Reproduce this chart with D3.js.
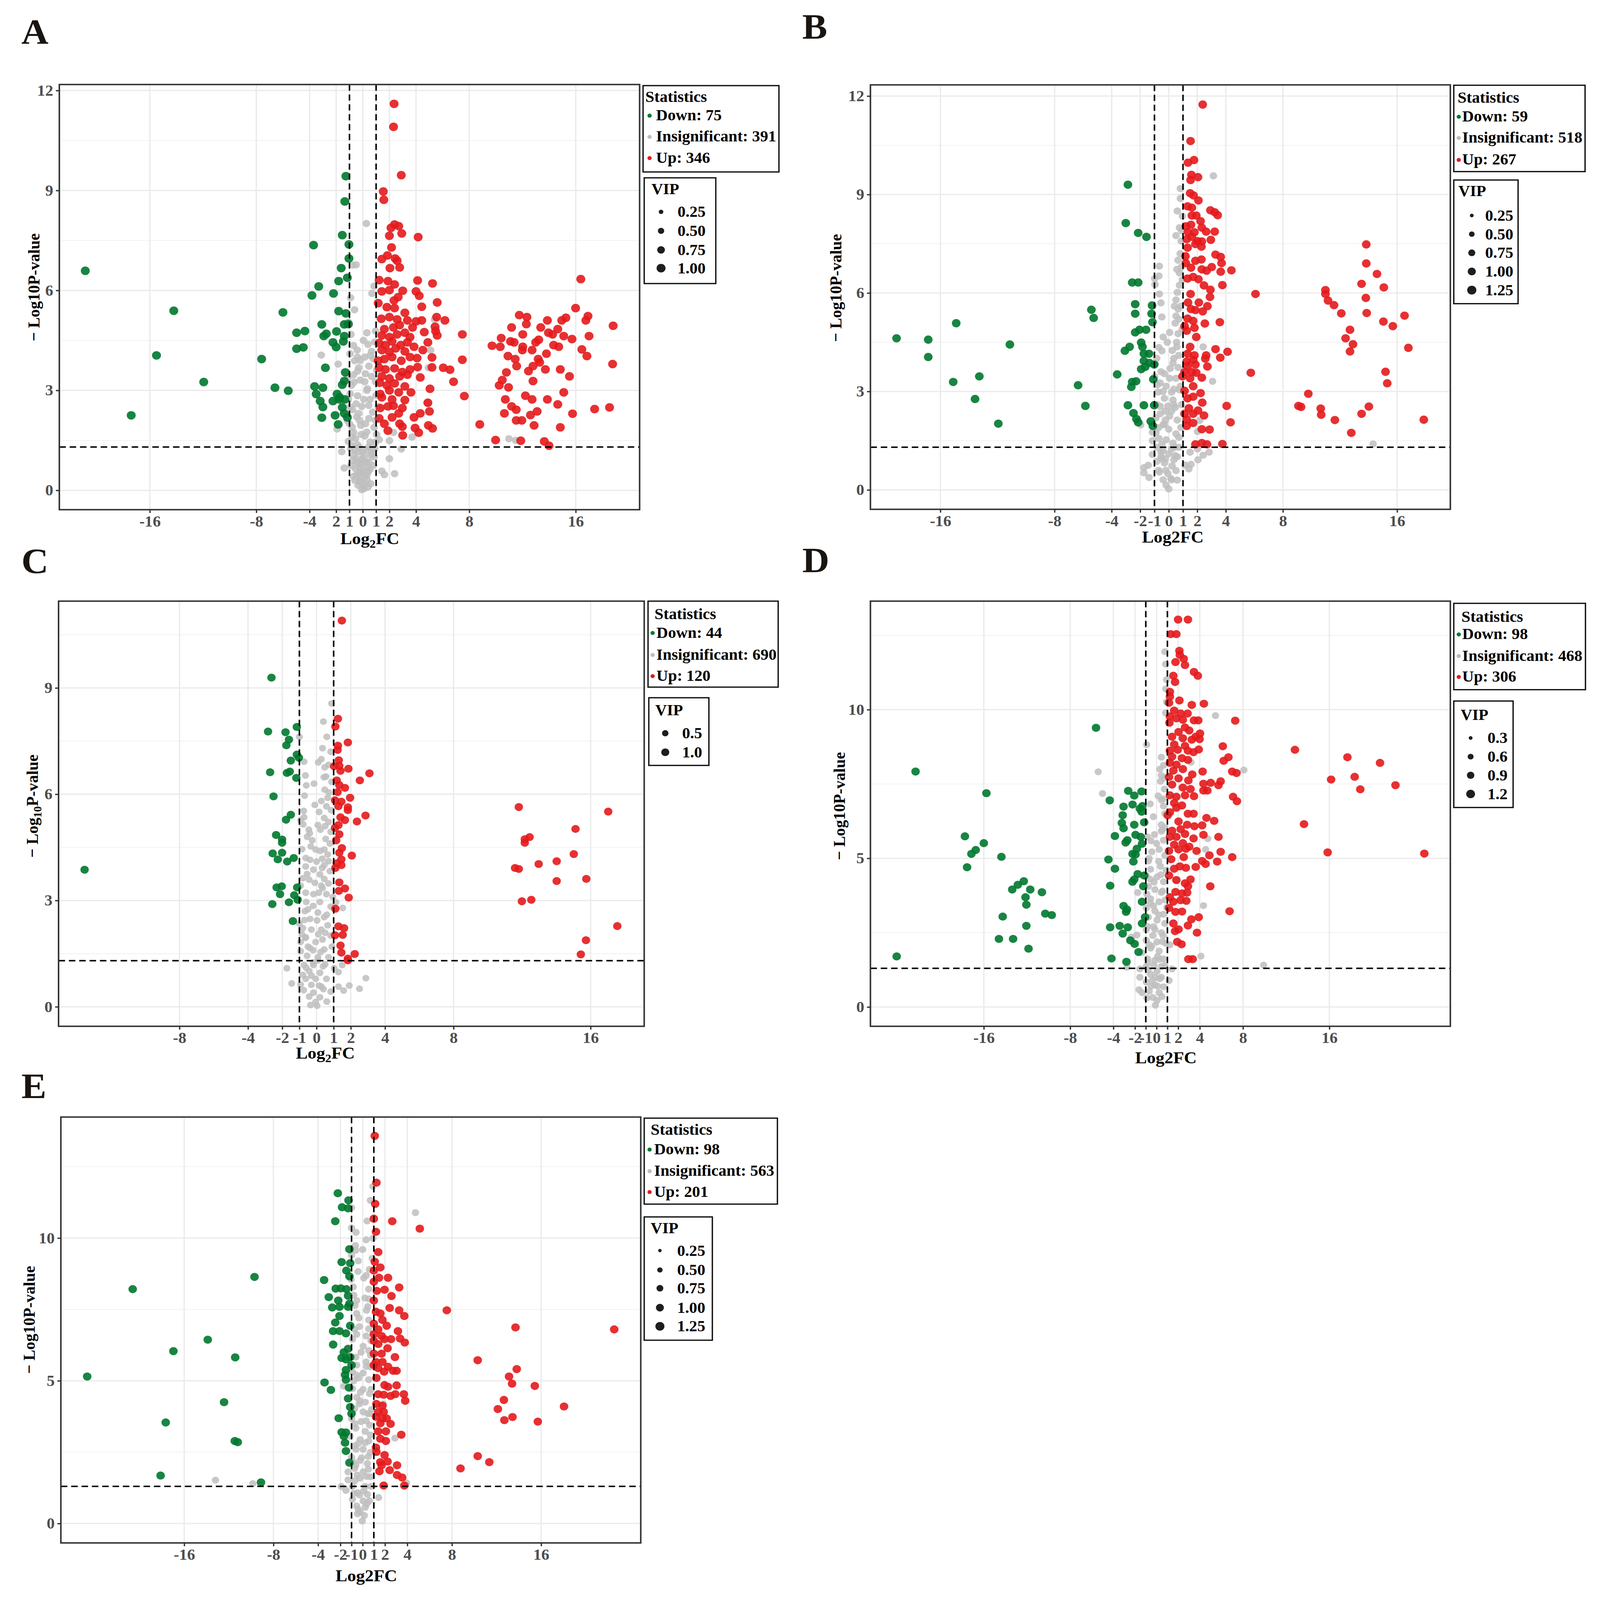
<!DOCTYPE html>
<html><head><meta charset="utf-8">
<script src="https://cdn.jsdelivr.net/npm/d3@7"></script>
<style>html,body{margin:0;padding:0;background:#fff;overflow:hidden}svg{display:block}</style>
</head><body>
<svg id="c"></svg>
<script>
// ---------------- DATA ----------------
const statCounts = {A:[75,391,346], B:[59,518,267], C:[44,690,120], D:[98,468,306], E:[98,563,201]};
const vipTicksA=[0.25,0.5,0.75,1.0], vipTicksB=[0.25,0.5,0.75,1.0,1.25], vipTicksC=[0.5,1.0],
      vipTicksD=[0.3,0.6,0.9,1.2], vipTicksE=[0.25,0.5,0.75,1.0,1.25];
const vipLabelsA=["0.25","0.50","0.75","1.00"], vipLabelsB=["0.25","0.50","0.75","1.00","1.25"],
      vipLabelsC=["0.5","1.0"], vipLabelsD=["0.3","0.6","0.9","1.2"], vipLabelsE=["0.25","0.50","0.75","1.00","1.25"];
const xTicksFull=[-16,-8,-4,-2,-1,0,1,2,4,8,16];
const xLabelsA=["-16","-8","-4","2","1","0","1","2","4","8","16"];
const xLabelsFull=["-16","-8","-4","-2","-1","0","1","2","4","8","16"];
const xTicksC=[-8,-4,-2,-1,0,1,2,4,8,16];
const xLabelsC=["-8","-4","-2","-1","0","1","2","4","8","16"];
const yTicksAB=[0,3,6,9,12], yMinorAB=[1.5,4.5,7.5,10.5];
const yTicksC=[0,3,6,9], yMinorC=[1.5,4.5,7.5,10.5];
const yTicksDE=[0,5,10], yMinorDE=[2.5,7.5,12.5];
// VIP per group (down, insignificant, up)
const vipA=[1.0,0.72,1.0], vipB=[1.12,0.85,1.12], vipC=[1.12,0.65,1.12], vipD=[1.12,0.85,1.12], vipE=[1.12,0.85,1.12];

const aDown=[[-20.85,6.59],[-14.2,5.39],[-15.5,4.05],[-11.95,3.25],[-17.4,2.25],[-7.6,3.94],[-6.6,3.08],[-5.6,2.99],[-6.0,5.34],[-4.97,4.73],[-4.35,4.78],[-4.97,4.25],[-4.47,4.29],[-3.7,7.36],[-3.31,6.12],[-3.82,5.85],[-3.08,4.98],[-2.93,4.63],[-2.74,4.70],[-2.81,3.68],[-3.62,3.12],[-3.0,3.08],[-3.5,2.89],[-3.2,2.68],[-3.0,2.5],[-3.08,2.18],[-2.2,5.91],[-1.81,6.28],[-1.62,6.67],[-1.54,7.66],[-1.27,9.43],[-1.35,8.67],[-1.04,7.38],[-1.04,6.96],[-1.16,6.38],[-1.81,5.38],[-1.27,5.31],[-1.39,4.98],[-1.08,4.99],[-1.97,4.77],[-1.39,4.63],[-2.24,4.44],[-2.0,4.30],[-1.46,4.47],[-1.31,3.54],[-1.39,3.28],[-1.54,3.17],[-1.93,2.89],[-1.77,2.73],[-2.24,2.68],[-1.54,2.49],[-1.39,2.31],[-2.08,2.25],[-1.16,2.19],[-1.85,1.98],[-1.35,2.73],[-1.73,2.79]];
const aIns=[[0.27,8.01],[-0.77,6.76],[-0.5,6.77],[0.85,6.13],[0.69,5.91],[-0.92,5.78],[-0.62,5.42],[5.39,5.13],[0.96,4.78],[-0.89,4.68],[0.39,4.38],[0.66,4.17],[-0.42,4.21],[5.09,4.21],[-3.12,4.06],[-0.96,4.1],[0.15,4.0],[-0.62,3.89],[-1.85,3.79],[-0.31,3.68],[0.46,3.73],[4.93,3.68],[-0.69,3.47],[0.66,3.42],[-0.19,3.31],[-0.85,3.15],[0.31,3.0],[0.96,3.26],[-0.39,2.84],[-1.08,2.73],[0.54,2.73],[-0.08,2.52],[-0.77,2.42],[1.16,2.52],[4.89,2.62],[-0.46,2.21],[0.46,2.16],[-1.16,2.1],[-1.93,1.84],[-0.15,1.95],[0.85,1.89],[-0.69,1.74],[2.31,1.74],[2.0,1.49],[0.15,1.63],[1.23,1.52],[3.7,1.6],[10.98,1.55],[11.48,1.5],[-1.08,1.47],[-0.39,1.37],[0.46,1.31],[2.89,1.24],[-1.58,1.16],[-0.69,1.05],[0.0,1.16],[0.73,1.1],[-0.5,0.95],[0.27,0.84],[2.0,0.95],[-0.89,0.74],[-0.23,0.68],[0.54,0.63],[-1.39,0.67],[1.43,0.58],[1.62,0.47],[2.39,0.5],[-0.46,0.47],[0.15,0.42],[-0.23,0.26],[0.0,0.16],[-0.08,0.02],[0.31,0.32],[-0.69,0.42],[-0.31,0.84],[0.85,1.0],[1.04,1.68],[-0.12,1.68],[-0.31,2.31],[0.08,2.73],[0.15,3.26],[-0.39,3.58],[0.31,4.73],[-1.08,5.05],[-0.6,0.3],[0.4,0.55],[-0.3,1.3],[0.55,1.45],[-0.8,1.9],[0.2,2.0],[-0.5,2.6],[0.75,2.35],[-0.95,2.9],[0.35,3.05],[-0.2,3.9],[0.8,3.95],[-0.7,4.35],[0.05,4.5],[0.9,4.45],[-0.45,0.85],[0.6,0.2],[-0.15,0.55],[0.3,1.75],[-0.85,1.35],[0.1,1.0],[-0.55,1.55],[0.65,1.25],[-0.25,2.1],[0.45,2.55],[-0.65,3.25],[0.2,3.5],[-0.1,0.8],[0.4,0.1],
[-0.9,1.25],[-0.6,1.2],[-0.3,1.15],[0.3,1.2],[0.6,1.05],[0.9,1.25],[-0.75,0.9],[-0.05,0.95],[0.45,0.85],[0.8,0.75],[-0.55,0.65],[0.05,0.6],[0.35,0.7],[-0.3,0.45],[0.3,0.45],[-0.15,0.3],[0.15,0.2],[-0.35,0.15],[0.1,0.05],[-0.8,1.6],[0.95,1.45],[-1.0,2.0],[0.95,2.1],[-0.95,2.5],[1.0,2.85],[-1.1,3.4],[1.05,3.6],[-0.4,4.0],[0.55,4.05]];
const aUp=[[2.35,11.6],[2.31,10.91],[2.89,9.46],[1.54,8.97],[1.58,8.72],[2.39,7.98],[2.7,7.93],[2.12,7.88],[2.0,7.64],[2.93,7.71],[4.16,7.6],[2.16,7.29],[1.85,7.05],[1.43,6.94],[2.43,6.96],[2.58,6.89],[2.04,6.67],[2.77,6.69],[1.23,6.31],[1.89,6.28],[2.39,6.18],[1.43,5.97],[2.0,6.01],[3.0,5.99],[4.12,6.3],[5.24,6.21],[4.0,5.97],[4.24,5.84],[2.66,5.8],[2.35,5.7],[1.16,5.62],[1.81,5.5],[2.39,5.47],[3.16,5.33],[4.43,5.51],[5.59,5.64],[1.39,5.15],[2.0,5.2],[2.58,5.13],[3.35,5.1],[4.0,5.07],[4.43,5.1],[5.55,5.2],[6.17,5.1],[1.62,4.84],[2.31,4.89],[2.77,4.96],[3.74,4.89],[5.43,4.91],[5.47,4.78],[1.43,4.65],[2.0,4.6],[2.58,4.68],[3.16,4.73],[3.55,4.6],[4.62,4.75],[5.59,4.65],[7.48,4.68],[1.23,4.42],[1.7,4.36],[2.2,4.47],[2.85,4.36],[3.35,4.44],[3.85,4.31],[4.89,4.44],[1.43,4.21],[2.0,4.15],[2.47,4.26],[3.16,4.17],[4.51,4.21],[1.16,3.89],[1.62,3.94],[2.2,4.0],[2.89,3.89],[3.55,4.0],[4.08,3.97],[5.2,3.99],[7.48,3.92],[1.23,3.68],[1.7,3.63],[2.39,3.66],[2.97,3.55],[3.55,3.63],[4.12,3.70],[5.2,3.69],[6.05,3.68],[6.55,3.62],[1.43,3.42],[2.0,3.36],[2.77,3.42],[3.35,3.47],[4.32,3.39],[1.27,3.23],[1.81,3.15],[2.39,3.21],[3.16,3.12],[6.82,3.26],[1.31,2.89],[2.0,3.0],[2.7,2.94],[3.62,2.94],[5.05,3.05],[1.43,2.79],[2.2,2.73],[3.16,2.71],[4.89,2.63],[7.63,2.83],[1.31,2.47],[1.89,2.52],[2.31,2.54],[2.97,2.47],[5.01,2.37],[1.23,2.16],[1.62,2.0],[2.2,2.19],[2.7,2.31],[3.85,2.19],[4.32,2.31],[1.89,1.79],[2.77,2.0],[2.97,1.91],[3.0,1.65],[3.93,1.87],[4.2,1.73],[4.93,1.95],[5.24,1.86],
[8.79,1.98],[9.71,4.34],[9.98,1.51],[10.25,3.15],[10.33,4.31],[10.4,4.57],[10.48,3.31],[10.64,2.31],[10.71,2.73],[10.79,3.54],[10.95,3.09],[10.91,4.03],[11.1,4.47],[11.18,2.52],[11.18,4.89],[11.37,4.44],[11.45,3.94],[11.53,2.42],[11.53,2.1],[11.56,3.73],[11.76,5.26],[11.87,1.49],[11.99,4.21],[11.95,2.1],[12.02,4.68],[12.02,4.31],[12.22,2.84],[12.33,5.2],[12.29,4.99],[12.45,3.58],[12.6,2.26],[12.72,4.21],[12.72,2.73],[12.79,3.28],[12.79,3.73],[12.87,1.95],[12.99,4.44],[13.1,2.37],[13.22,4.52],[13.18,3.94],[13.29,3.84],[13.37,4.89],[13.72,3.63],[13.64,1.47],[13.8,4.1],[13.87,5.1],[13.87,2.73],[13.99,1.34],[13.95,4.73],[14.26,4.68],[14.34,4.36],[14.65,2.58],[14.65,4.84],[14.72,4.31],[14.84,3.63],[14.84,1.89],[14.95,5.1],[15.1,2.94],[15.1,4.63],[15.26,5.18],[15.53,3.42],[15.72,4.54],[15.76,2.3],[15.99,5.47],[16.38,6.34],[16.46,4.23],[16.76,5.1],[16.84,4.03],[16.92,5.23],[17.0,4.63],[17.42,2.44],[18.54,2.49],[18.77,3.79],[18.81,4.94]];

const bDown=[[-19.07,4.62],[-16.85,4.58],[-16.85,4.05],[-14.89,5.08],[-15.1,3.29],[-13.27,3.46],[-13.57,2.77],[-11.94,2.02],[-11.13,4.43],[-6.35,3.19],[-5.84,2.56],[-5.42,5.49],[-5.26,5.24],[-3.61,3.52],[-2.86,9.3],[-3.01,8.13],[-2.14,7.83],[-1.56,7.71],[-2.56,6.32],[-2.14,6.32],[-2.35,5.66],[-2.35,5.37],[-1.17,5.62],[-1.2,5.37],[-1.14,5.11],[-2.35,4.8],[-2.05,4.88],[-1.59,4.88],[-1.93,4.49],[-2.74,4.36],[-3.07,4.24],[-1.84,4.36],[-1.74,4.15],[-1.38,4.15],[-1.74,3.93],[-1.35,3.87],[-1.65,3.75],[-1.93,3.68],[-1.02,3.82],[-2.56,3.29],[-2.29,3.31],[-2.62,3.14],[-1.08,3.37],[-2.86,2.58],[-1.74,2.58],[-1.02,2.58],[-2.47,2.34],[-2.26,2.16],[-2.14,2.06],[-1.26,2.09],[-1.11,1.95]];
const bIns=[[3.13,9.57],[0.81,9.18],[0.81,8.88],[0.96,8.34],[0.75,7.99],[0.51,7.75],[0.87,7.58],[-0.66,6.82],[-0.69,6.52],[-0.99,6.44],[0.57,6.72],[0.75,6.61],[-0.96,6.26],[0.75,6.24],[-0.66,5.97],[0.6,6.02],[0.51,5.79],[0.66,5.51],[-0.48,5.27],[0.51,5.3],[0.45,5.08],[0.06,4.8],[-0.39,4.66],[0.66,4.76],[2.41,4.36],[-0.69,4.34],[0.57,4.36],[-0.48,4.24],[-0.84,4.01],[0.36,4.01],[0.3,3.87],[0.66,3.73],[-0.54,3.6],[-0.3,3.54],[-0.99,3.45],[0.06,3.4],[-0.6,3.26],[-0.18,3.16],[3.07,3.31],[0.36,3.07],[-0.75,2.98],[-0.3,2.79],[0.3,2.74],[-0.84,2.6],[-0.06,2.56],[0.45,2.51],[-0.6,2.32],[0.06,2.25],[0.6,2.13],[2.17,2.12],[-1.96,1.98],[-0.39,1.99],[-1.14,1.76],[0.0,1.85],[0.51,1.71],[2.02,1.78],[-0.69,1.57],[-0.18,1.53],[0.3,1.43],[-1.14,1.5],[14.32,1.4],[2.02,1.25],[1.5,1.15],[2.83,1.15],[2.41,1.06],[-1.14,1.08],[-0.54,1.15],[0.0,1.1],[0.6,1.01],[-0.84,0.87],[-0.3,0.82],[0.24,0.73],[1.14,0.76],[1.56,0.78],[2.05,0.92],[-1.74,0.68],[-1.44,0.75],[-1.74,0.52],[-1.38,0.38],[-0.66,0.54],[-0.06,0.5],[0.51,0.59],[1.41,0.64],[-0.39,0.31],[0.21,0.31],[-0.18,0.15],[0.0,0.03],[-0.48,1.39],[-0.24,2.13],[0.21,2.98],[0.81,3.16],[-0.54,1.01],[0.36,0.92],[-0.2,0.6],[0.4,1.3],[-0.7,1.9],[0.2,2.4],[-0.4,3.0],[0.5,3.4],[-0.1,4.5],[0.7,4.1],[0.9,6.8],[0.8,7.2],[-0.9,2.2],[0.15,0.35],[-0.5,0.95],[0.7,1.6],[-0.3,2.0],[0.35,2.6],[-0.8,3.2],[0.1,3.7],[0.55,4.5],[0.85,5.6],[-0.55,5.7],
[-0.8,1.3],[-0.4,1.2],[0.2,1.25],[0.7,1.3],[-0.7,0.6],[0.6,0.3],[-0.25,0.95],[0.45,1.05],[-0.9,1.75],[0.85,1.9],[-0.6,2.55],[0.9,2.6],[-0.25,2.4],[0.75,3.05],[-0.95,3.85],[0.25,4.25],[0.95,4.9],[0.7,5.2],[0.4,5.6],[0.95,6.4],[0.65,7.0],[0.9,7.9],[0.6,8.5]];
const bUp=[[2.38,11.74],[1.53,10.63],[1.35,9.97],[1.77,10.05],[1.59,9.6],[1.53,9.44],[2.05,9.53],[1.5,9.04],[1.74,8.97],[2.08,8.82],[1.32,8.64],[1.62,8.6],[2.92,8.52],[3.22,8.46],[3.43,8.37],[1.62,8.36],[1.93,8.36],[2.23,8.19],[1.2,8.03],[1.56,8.08],[2.32,7.99],[1.35,7.85],[1.8,7.85],[2.62,7.87],[3.22,7.87],[1.26,7.64],[1.62,7.71],[2.02,7.58],[2.32,7.57],[2.95,7.62],[1.32,7.38],[1.87,7.49],[2.29,7.41],[3.28,7.17],[3.64,7.1],[1.17,7.12],[1.2,6.91],[1.87,6.98],[2.29,7.02],[3.7,6.91],[1.56,6.77],[2.32,6.72],[3.01,6.79],[2.65,6.68],[3.64,6.65],[4.39,6.69],[1.32,6.44],[1.71,6.49],[2.08,6.42],[2.47,6.23],[3.76,6.24],[2.92,6.1],[6.08,5.97],[1.53,5.97],[2.89,5.88],[1.35,5.71],[2.11,5.71],[2.71,5.6],[1.56,5.51],[1.87,5.48],[2.38,5.44],[1.32,5.22],[1.71,5.15],[2.53,5.07],[3.58,5.11],[1.11,4.99],[1.8,4.94],[1.26,4.85],[1.93,4.66],[1.5,4.36],[3.28,4.29],[4.12,4.21],[1.32,4.15],[1.8,4.1],[2.62,4.1],[1.26,3.91],[1.71,3.96],[2.56,4.0],[3.61,4.03],[1.32,3.77],[1.87,3.82],[2.71,3.76],[1.11,3.59],[1.62,3.59],[1.93,3.57],[5.75,3.57],[0.96,3.46],[1.5,3.4],[2.32,3.42],[1.71,3.16],[1.11,3.02],[2.23,2.95],[1.32,2.79],[1.71,2.84],[2.35,2.66],[4.06,2.56],[1.41,2.49],[1.11,2.32],[1.71,2.32],[2.05,2.42],[2.47,2.27],[1.26,2.15],[4.33,2.06],[1.71,2.04],[1.26,1.95],[2.32,1.85],[2.86,1.84],[1.87,1.39],[2.32,1.43],[2.68,1.39],[3.76,1.4],
[9.27,2.53],[9.09,2.56],[9.78,2.93],[10.65,2.48],[10.68,2.29],[10.98,6.09],[10.98,5.97],[11.16,5.77],[11.58,5.63],[11.64,2.13],[12.09,5.38],[12.39,4.62],[12.7,4.88],[12.91,4.44],[12.7,4.22],[12.79,1.74],[13.51,6.28],[13.51,2.32],[13.84,7.48],[13.84,6.9],[13.81,5.85],[13.87,5.39],[14.02,2.54],[14.59,6.58],[15.07,6.17],[15.04,5.13],[15.19,3.6],[15.31,3.25],[15.7,4.99],[16.52,5.31],[16.79,4.33],[17.87,2.14]];

const cDown=[[-13.54,3.87],[-2.63,9.29],[-2.83,7.77],[-1.81,7.75],[-1.15,7.9],[-1.61,7.54],[-1.76,7.38],[-1.15,7.12],[-1.03,7.03],[-1.5,6.95],[-2.71,6.62],[-1.73,6.6],[-1.56,6.64],[-1.18,6.46],[-2.51,5.94],[-1.5,5.42],[-1.78,5.28],[-2.36,4.85],[-2.01,4.72],[-2.01,4.63],[-2.56,4.33],[-2.01,4.35],[-2.26,4.16],[-1.71,4.1],[-1.33,4.2],[-2.33,3.37],[-2.03,3.4],[-1.13,3.37],[-2.13,3.18],[-1.3,3.15],[-1.1,3.02],[-2.58,2.9],[-1.61,2.95],[-1.38,2.42]];
const cIns=[[0.88,8.56],[0.4,8.05],[-1.0,7.62],[0.6,7.62],[0.83,7.2],[0.28,6.99],[-0.73,6.92],[0.7,6.83],[0.48,6.76],[-0.65,6.53],[0.43,6.48],[0.88,6.35],[0.48,6.13],[0.73,6.05],[-0.7,5.96],[0.28,5.81],[0.58,5.66],[-0.75,5.53],[-0.73,5.35],[0.45,5.33],[-0.93,5.27],[0.7,5.22],[-0.78,5.15],[0.23,5.0],[0.83,4.94],[-0.55,4.8],[0.53,4.74],[0.78,4.61],[-0.33,4.53],[0.2,4.4],[0.45,4.44],[-0.63,4.2],[-0.38,4.15],[0.33,4.18],[0.7,4.11],[-0.63,3.96],[-0.18,3.87],[0.33,3.92],[0.78,3.83],[0.2,3.74],[-0.8,3.63],[-0.43,3.59],[0.45,3.61],[-0.93,3.42],[0.28,3.42],[0.7,3.48],[-0.63,3.22],[-0.18,3.18],[0.58,3.18],[-0.6,2.96],[0.2,2.96],[1.13,2.95],[0.83,2.83],[1.53,2.79],[-0.68,2.7],[0.08,2.66],[-0.38,2.48],[0.45,2.53],[-1.0,2.35],[-0.8,2.22],[-0.3,2.18],[0.28,2.18],[0.83,2.01],[-0.63,1.96],[-0.93,1.83],[-0.05,1.83],[-0.38,1.66],[0.45,1.62],[-0.93,1.57],[-0.55,1.44],[0.08,1.4],[0.7,1.4],[-0.73,1.18],[-0.18,1.18],[0.38,1.14],[1.5,1.18],[-1.73,1.09],[1.03,1.09],[-0.43,1.01],[0.2,0.96],[-0.63,0.79],[2.88,0.81],[-0.05,0.79],[0.58,0.79],[1.28,0.98],[-0.93,0.63],[-0.3,0.62],[0.28,0.57],[1.28,0.57],[1.91,0.6],[-1.45,0.66],[-0.75,0.47],[2.51,0.51],[-0.18,0.4],[0.83,0.43],[1.58,0.46],[-0.43,0.29],[0.2,0.27],[-0.05,0.14],[0.03,0.03],[-0.3,0.88],[0.08,1.31],[0.5,2.09],[0.03,2.44],[0.13,3.22],[-0.05,4.44],[0.08,5.13],[-0.2,1.6],[0.35,1.9],[-0.5,2.75],[0.6,2.6],[-0.1,3.5],[0.45,4.0],[-0.45,5.0],[0.15,5.5],[0.65,5.9],[-0.15,6.3],[0.35,7.3],[-0.6,1.1],[0.4,0.5],[0.9,1.7],[-0.85,2.05],[0.95,3.1],[-0.25,4.7],
[-0.8,0.9],[0.5,1.2],[-0.5,1.7],[0.1,2.05],[-0.7,2.45],[0.65,2.3],[-0.2,2.85],[0.35,3.35],[-0.55,3.75],[0.0,4.1],[-0.85,4.45],[0.65,4.3],[-0.4,4.9],[0.5,5.1],[-0.1,5.7],[0.85,5.55],[-0.6,6.25],[0.55,6.5],[0.1,6.9],[-0.35,0.05],[0.15,0.6],[0.6,0.15],[-0.2,1.25],[0.25,1.55],[-0.65,1.95]];
const cUp=[[1.48,10.9],[1.25,8.13],[1.1,7.91],[1.83,7.46],[1.25,7.37],[1.23,7.25],[1.3,6.96],[1.03,6.79],[1.33,6.8],[1.4,6.66],[1.86,6.72],[3.09,6.59],[2.53,6.39],[1.18,6.39],[1.33,6.26],[1.66,6.18],[1.23,6.06],[1.96,5.9],[1.08,5.83],[1.45,5.79],[1.28,5.66],[1.83,5.63],[1.83,5.55],[2.86,5.4],[1.4,5.35],[1.66,5.27],[2.36,5.23],[1.28,5.13],[1.08,5.05],[1.33,4.87],[1.15,4.7],[1.48,4.48],[1.33,4.35],[2.06,4.27],[1.45,4.16],[1.18,4.05],[1.45,4.0],[1.1,3.92],[1.33,3.51],[1.66,3.34],[1.3,3.27],[1.88,3.08],[1.1,2.77],[1.28,2.27],[1.61,2.22],[1.08,2.02],[1.53,2.03],[1.4,1.73],[1.45,1.53],[2.23,1.49],[1.83,1.36],[1.83,1.31],
[11.81,5.64],[11.59,3.92],[11.81,3.89],[11.99,2.98],[12.16,4.73],[12.16,4.63],[12.44,4.79],[12.54,3.02],[12.97,4.03],[14.02,4.11],[14.02,3.55],[15.02,4.31],[15.12,5.02],[15.75,3.61],[15.73,1.88],[15.43,1.48],[17.03,5.51],[17.56,2.28]];

const dDown=[[-24.07,1.7],[-22.32,7.92],[-15.76,7.19],[-17.75,5.74],[-16.0,5.51],[-16.75,5.28],[-17.15,5.15],[-14.37,5.05],[-17.55,4.7],[-12.3,4.23],[-12.85,4.11],[-13.37,3.95],[-11.7,3.95],[-10.62,3.86],[-12.14,3.69],[-12.06,3.44],[-10.31,3.14],[-9.71,3.09],[-14.25,3.04],[-12.06,2.73],[-14.6,2.29],[-13.29,2.29],[-11.86,1.96],[-5.61,9.39],[-2.63,7.27],[-2.07,7.11],[-1.39,7.25],[-4.34,6.95],[-2.23,6.81],[-1.31,6.76],[-3.06,6.74],[-3.14,6.45],[-1.55,6.67],[-1.39,6.57],[-3.22,6.19],[-2.07,6.13],[-1.15,6.21],[-3.06,6.01],[-3.86,5.75],[-1.95,5.79],[-1.47,5.72],[-2.71,5.61],[-2.87,5.53],[-1.35,5.49],[-1.83,5.32],[-2.23,5.15],[-1.95,5.13],[-4.46,4.96],[-2.15,4.89],[-3.86,4.65],[-1.75,4.47],[-1.15,4.42],[-2.23,4.21],[-2.07,4.29],[-4.3,4.08],[-1.23,4.06],[-1.35,3.54],[-3.06,3.4],[-2.75,3.28],[-2.83,3.2],[-1.07,3.02],[-1.35,2.81],[-4.3,2.68],[-3.42,2.73],[-2.67,2.68],[-3.14,2.47],[-2.43,2.24],[-2.03,2.12],[-1.67,1.85],[-4.18,1.63],[-2.79,1.52]];
const dIns=[[0.76,11.95],[0.84,11.53],[0.92,11.01],[0.84,10.7],[0.92,10.26],[0.84,9.89],[5.45,9.8],[-0.92,8.82],[0.44,8.4],[0.64,8.13],[3.18,8.23],[8.08,7.97],[-5.41,7.91],[0.44,7.79],[0.36,7.59],[0.72,7.33],[-5.01,7.18],[0.44,6.96],[-0.6,6.83],[0.64,6.76],[0.76,6.5],[0.44,6.13],[0.76,6.03],[0.44,5.91],[-0.84,5.72],[-0.52,5.59],[0.64,5.61],[4.74,5.66],[0.24,5.3],[-0.44,5.22],[4.54,5.3],[0.76,5.1],[-0.76,4.91],[0.36,4.73],[-0.56,4.63],[-0.96,4.42],[0.04,4.37],[0.64,4.21],[1.83,4.27],[-0.76,4.06],[-0.16,3.95],[-1.75,3.85],[0.44,3.85],[-0.56,3.64],[0.24,3.54],[4.34,3.41],[-0.96,3.33],[-0.16,3.23],[0.64,3.12],[-0.76,3.02],[0.04,2.92],[0.76,2.81],[-0.84,2.71],[-0.16,2.61],[0.44,2.5],[-2.35,2.35],[-1.83,2.42],[-0.96,2.24],[0.04,2.19],[0.84,2.14],[1.23,2.09],[-0.56,1.98],[-1.35,1.83],[0.24,1.88],[4.1,1.71],[-0.84,1.62],[-0.16,1.57],[0.64,1.62],[9.91,1.41],[-2.75,1.34],[-1.55,1.28],[-0.96,1.36],[1.43,1.28],[0.04,1.2],[-0.56,1.1],[-1.55,1.0],[0.44,1.0],[1.15,0.89],[-0.96,0.84],[-0.16,0.74],[0.64,0.68],[-1.63,0.58],[-0.68,0.53],[0.24,0.48],[-0.36,0.32],[0.04,0.22],[-0.12,0.06],[-1.35,0.48],[0.44,1.36],[-0.36,2.4],[-0.4,0.9],[0.3,1.6],[-0.7,2.1],[0.6,2.4],[-0.3,3.4],[0.8,3.6],[-0.6,4.3],[0.2,4.9],[-0.2,5.8],[0.6,7.0],[0.3,8.0],[-0.9,3.8],[0.9,4.6],[-0.25,1.4],[0.1,0.7],[-0.8,1.5],
[-0.5,0.7],[0.3,0.95],[-0.8,1.25],[0.75,1.4],[0.1,1.7],[-0.45,2.05],[0.55,2.2],[-0.3,2.7],[0.2,3.1],[-0.6,3.5],[0.55,3.9],[-0.25,4.2],[0.4,4.45],[-0.7,5.0],[0.0,5.5],[0.5,5.95],[-0.3,6.4],[0.15,7.1],[0.7,7.7],[-0.9,0.3],[0.5,0.35],[-0.1,1.0],[-0.95,2.6],[0.95,3.35]];
const dUp=[[1.99,13.03],[2.9,13.03],[1.31,12.54],[1.83,12.54],[2.11,11.98],[2.15,11.84],[2.51,11.71],[1.75,11.6],[2.63,11.5],[3.46,11.27],[3.82,11.14],[1.55,11.14],[1.71,10.93],[1.23,10.6],[1.23,10.44],[2.11,10.31],[1.15,10.23],[3.26,10.16],[4.38,10.2],[1.63,9.97],[2.23,9.87],[2.87,9.87],[1.23,9.77],[1.83,9.71],[2.43,9.66],[3.46,9.64],[3.86,9.64],[7.28,9.63],[1.19,9.56],[2.63,9.4],[2.03,9.25],[3.02,9.3],[4.02,9.2],[3.62,9.09],[1.43,9.09],[2.43,9.04],[3.26,8.99],[3.98,9.01],[1.63,8.83],[2.63,8.78],[6.13,8.77],[1.23,8.62],[1.95,8.65],[2.9,8.62],[3.9,8.66],[12.81,8.65],[1.43,8.42],[2.35,8.37],[3.42,8.57],[6.65,8.4],[6.21,8.28],[17.67,8.4],[1.23,8.21],[1.83,8.15],[2.9,8.31],[20.69,8.21],[2.43,8.0],[1.55,7.95],[4.26,7.92],[7.0,7.92],[7.4,7.87],[3.3,7.82],[1.15,7.74],[2.03,7.69],[2.94,7.62],[4.34,7.51],[5.01,7.54],[5.93,7.59],[5.73,7.46],[16.16,7.65],[18.34,7.74],[1.43,7.48],[2.43,7.38],[3.14,7.33],[18.86,7.32],[22.12,7.46],[4.34,7.28],[4.7,7.28],[1.23,7.12],[1.83,7.07],[2.63,7.12],[3.46,7.09],[7.08,7.07],[7.44,6.92],[1.63,6.86],[2.35,6.78],[1.23,6.55],[1.83,6.7],[2.9,6.5],[3.42,6.5],[4.62,6.36],[5.33,6.26],[1.03,6.45],[2.03,6.24],[2.83,6.13],[3.5,6.08],[4.22,6.11],[13.65,6.15],[1.43,5.93],[2.23,5.98],[2.63,5.82],[4.34,5.79],[5.73,5.72],[1.23,5.72],[1.83,5.72],[3.42,5.67],[1.63,5.46],[2.43,5.51],[3.02,5.39],[1.15,5.25],[2.03,5.3],[2.71,5.32],[3.7,5.25],[5.93,5.22],[15.84,5.2],[24.79,5.16],[4.89,5.1],[7.0,5.04],[2.51,5.04],[1.35,4.97],[4.22,4.91],[5.61,4.89],[4.54,4.81],[3.62,4.71],[2.15,4.73],[1.63,4.65],[2.71,4.68],[1.15,4.42],[1.83,4.27],[3.14,4.29],[2.63,4.16],[2.9,4.06],[4.97,4.06],[1.75,3.87],[2.35,3.82],[2.83,3.85],[1.23,3.69],[2.23,3.59],[2.75,3.57],[1.55,3.54],[6.76,3.22],[1.75,3.2],[2.35,3.21],[1.15,3.33],[3.9,3.02],[3.22,2.95],[1.55,2.81],[2.9,2.74],[2.03,2.61],[1.71,2.55],[3.74,2.5],[1.91,2.19],[2.31,2.11],[2.94,1.61],[3.34,1.61]];

const eDown=[[-24.7,5.15],[-20.62,8.21],[-18.12,1.68],[-17.66,3.54],[-16.97,6.04],[-13.89,6.44],[-12.43,4.25],[-11.43,5.82],[-11.47,2.89],[-11.2,2.85],[-9.7,8.64],[-9.12,1.44],[-3.46,8.53],[-3.42,4.94],[-2.85,4.68],[-2.65,6.27],[-2.23,11.57],[-1.27,11.32],[-1.85,11.08],[-1.31,11.04],[-2.46,10.59],[-1.19,9.61],[-1.89,9.16],[-1.12,9.12],[-1.46,8.86],[-1.19,8.66],[-2.42,8.23],[-1.96,8.24],[-1.46,8.21],[-1.31,7.98],[-3.04,7.93],[-2.19,7.81],[-1.19,7.7],[-2.73,7.57],[-2.08,7.59],[-1.31,7.59],[-2.08,7.27],[-2.46,7.04],[-1.12,6.93],[-2.65,6.74],[-2.08,6.74],[-1.5,6.66],[-1.31,6.12],[-1.69,6.0],[-1.89,5.8],[-1.12,5.83],[-1.5,5.75],[-1.0,5.55],[-1.5,5.38],[-1.58,5.21],[-1.5,5.04],[-1.23,4.76],[-1.31,4.38],[-1.12,4.08],[-2.15,3.69],[-1.0,3.85],[-1.89,3.2],[-1.5,3.19],[-1.69,3.06],[-1.58,2.83],[-1.5,2.54],[-1.19,2.13]];
const eIns=[[0.92,11.81],[0.69,11.32],[-1.0,11.06],[4.73,10.89],[-1.0,10.36],[0.31,9.94],[0.92,9.99],[-0.65,9.74],[-0.62,9.57],[-1.0,9.4],[0.85,9.29],[-0.42,8.83],[0.31,8.69],[-1.04,8.55],[-0.85,8.29],[0.54,8.21],[-0.54,7.81],[0.54,7.87],[-0.69,7.64],[0.35,7.47],[-0.54,7.36],[0.54,7.13],[-0.73,6.8],[0.54,6.82],[-0.54,6.63],[0.31,6.57],[-0.92,6.46],[0.04,6.21],[0.54,6.06],[-0.62,5.83],[0.31,5.66],[-0.54,5.55],[0.69,5.49],[-0.92,5.32],[0.04,5.27],[-0.35,5.1],[0.54,5.04],[-1.69,4.81],[-0.92,4.73],[0.04,4.7],[0.62,4.55],[-0.54,4.42],[0.23,4.25],[1.85,4.19],[-0.73,4.02],[0.04,3.91],[0.62,3.85],[-1.0,3.68],[-0.15,3.57],[0.62,3.45],[-0.62,3.34],[0.23,3.23],[-1.12,3.06],[-0.23,2.94],[0.54,2.89],[2.89,2.99],[-0.73,2.72],[0.04,2.6],[0.69,2.49],[-1.0,2.32],[-0.23,2.21],[0.42,2.1],[-0.73,1.93],[0.04,1.81],[-1.31,1.81],[-13.2,1.52],[-9.85,1.4],[-1.31,1.53],[-0.23,1.59],[0.69,1.64],[3.92,1.42],[-1.92,1.3],[-0.92,1.3],[0.23,1.3],[-1.5,1.16],[-0.46,1.08],[0.42,1.02],[1.42,0.91],[-0.92,0.85],[0.04,0.79],[-0.54,0.62],[0.23,0.57],[-0.23,0.4],[0.15,0.28],[-0.04,0.09],[-0.46,0.34],[-0.62,2.04],[0.23,2.83],[-0.31,4.19],[-0.3,1.0],[0.5,1.9],[-0.6,2.6],[0.3,3.6],[-0.2,4.6],[0.7,5.9],[-0.3,6.9],[0.2,7.9],[-0.8,5.0],[0.8,4.0],[-0.1,2.3],[0.6,0.8],[-0.7,1.5],[0.1,8.6],[-0.4,9.2],
[-0.4,0.5],[0.4,0.7],[-0.8,1.05],[0.1,1.15],[0.75,1.3],[-0.5,1.7],[0.35,1.65],[-0.85,2.15],[0.5,2.35],[-0.4,2.8],[0.7,3.1],[-0.7,3.5],[0.45,3.85],[-0.25,4.3],[0.75,4.7],[-0.55,5.2],[0.35,5.5],[-0.15,6.0],[0.75,6.4],[-0.35,7.2],[0.45,7.6],[-0.8,8.0],[0.6,8.9],[0.0,9.6],[-0.6,10.2],[0.4,10.6]];
const eUp=[[1.08,13.58],[1.23,11.94],[1.12,11.2],[1.0,10.68],[2.65,10.59],[5.12,10.33],[1.19,10.22],[1.39,9.51],[1.08,9.17],[1.58,8.97],[1.0,8.86],[1.46,8.61],[2.27,8.61],[1.0,8.47],[3.27,8.27],[1.96,8.19],[1.27,8.15],[2.58,7.97],[1.0,7.81],[2.42,7.55],[3.27,7.47],[7.54,7.47],[1.19,7.42],[1.58,7.36],[3.73,7.27],[1.77,7.13],[1.0,7.0],[2.15,6.93],[13.7,6.87],[22.55,6.8],[1.39,6.8],[3.16,6.74],[1.0,6.63],[1.69,6.57],[1.96,6.46],[2.54,6.46],[3.35,6.48],[3.77,6.34],[1.0,6.4],[1.39,6.29],[2.23,6.14],[1.0,5.95],[1.69,5.95],[2.89,5.83],[10.31,5.72],[1.19,5.66],[1.77,5.66],[1.0,5.55],[2.27,5.49],[1.39,5.44],[1.92,5.32],[2.73,5.35],[3.04,5.35],[13.81,5.41],[1.23,5.1],[13.12,5.15],[13.39,4.9],[15.43,4.82],[1.96,4.85],[3.04,4.84],[2.27,4.79],[1.39,4.53],[1.88,4.51],[2.5,4.47],[2.92,4.53],[3.69,4.53],[3.81,4.3],[12.66,4.33],[1.23,4.19],[1.77,4.13],[18.05,4.1],[12.12,4.01],[1.39,3.91],[1.88,3.91],[1.19,3.74],[1.77,3.68],[2.15,3.68],[13.43,3.73],[12.7,3.62],[15.7,3.57],[1.58,3.51],[2.5,3.49],[1.39,3.23],[2.08,3.23],[3.46,3.11],[1.58,2.97],[2.08,2.89],[1.19,2.66],[1.23,2.51],[10.31,2.36],[1.96,2.4],[11.35,2.15],[1.58,2.15],[2.23,2.17],[3.08,2.04],[1.69,2.04],[1.5,1.83],[2.42,1.87],[8.77,1.93],[3.08,1.7],[3.54,1.61],[1.88,1.33],[3.73,1.33]];

// ---------------- LAYOUT (in 4180 x 4373 design units) ----------------
const panels=[
 {id:"A",down:aDown,ins:aIns,up:aUp,vip:vipA,vipTicks:vipTicksA,vipLabels:vipLabelsA,r:[6,11.7],
  box:[155,1671,231,1393],xd:[-22.8,20.8],yd:[-0.58,12.18],xTicks:xTicksFull,xLabels:xLabelsA,yTicks:yTicksAB,yMinor:yMinorAB,
  letter:[56,120],xt:[966,1487],yt:[88,785],xsub:true,ysub:false,
  st:{b:[1680,234,2035,470],tx:1686,ty:279,ex:1714,dx:1697,ey:[329,387,445]},
  vb:{b:[1683,486,1870,775],tx:1702,ty:531,dx:1727,lx:1770,ey:[593,645,697,747]}},
 {id:"B",down:bDown,ins:bIns,up:bUp,vip:vipB,vipTicks:vipTicksB,vipLabels:vipLabelsB,r:[5,12],
  box:[2274,3789,232,1392],xd:[-20.9,19.73],yd:[-0.59,12.34],xTicks:xTicksFull,xLabels:xLabelsFull,yTicks:yTicksAB,yMinor:yMinorAB,
  letter:[2096,106],xt:[3064,1483],yt:[2183,787],xsub:false,ysub:false,
  st:{b:[3798,233,4141,469],tx:3808,ty:281,ex:3820,dx:3811,ey:[332,390,450]},
  vb:{b:[3798,492,3966,830],tx:3810,ty:536,dx:3845,lx:3880,ey:[603,654,705,756,807]}},
 {id:"C",down:cDown,ins:cIns,up:cUp,vip:vipC,vipTicks:vipTicksC,vipLabels:vipLabelsC,r:[8.5,10.5],
  box:[153,1683,1643,2805],xd:[-15.06,19.13],yd:[-0.55,11.45],xTicks:xTicksC,xLabels:xLabelsC,yTicks:yTicksC,yMinor:yMinorC,
  letter:[56,1566],xt:[850,2893],yt:[84,2203],xsub:true,ysub:true,
  st:{b:[1693,1643,2033,1878],tx:1710,ty:1692,ex:1715,dx:1705,ey:[1743,1803,1861]},
  vb:{b:[1695,1907,1852,2092],tx:1712,ty:1955,dx:1738,lx:1782,ey:[2018,2070]}},
 {id:"D",down:dDown,ins:dIns,up:dUp,vip:vipD,vipTicks:vipTicksD,vipLabels:vipLabelsD,r:[5,11.5],
  box:[2274,3789,1643,2805],xd:[-26.5,27.2],yd:[-0.65,13.65],xTicks:xTicksFull,xLabels:xLabelsFull,yTicks:yTicksDE,yMinor:yMinorDE,
  letter:[2096,1564],xt:[3046,2906],yt:[2192,2203],xsub:false,ysub:false,
  st:{b:[3798,1649,4142,1885],tx:3818,ty:1700,ex:3820,dx:3811,ey:[1747,1806,1863]},
  vb:{b:[3798,1916,3953,2207],tx:3816,ty:1968,dx:3842,lx:3886,ey:[2031,2082,2133,2184]}},
 {id:"E",down:eDown,ins:eIns,up:eUp,vip:vipE,vipTicks:vipTicksE,vipLabels:vipLabelsE,r:[4.5,11.8],
  box:[159,1674,3053,4217],xd:[-27.06,24.93],yd:[-0.68,14.24],xTicks:xTicksFull,xLabels:xLabelsFull,yTicks:yTicksDE,yMinor:yMinorDE,
  letter:[56,3001],xt:[957,4322],yt:[75,3607],xsub:false,ysub:false,
  st:{b:[1683,3056,2031,3291],tx:1700,ty:3102,ex:1709,dx:1697,ey:[3155,3214,3271]},
  vb:{b:[1683,3326,1861,3663],tx:1700,ty:3370,dx:1724,lx:1769,ey:[3432,3485,3535,3588,3639]}}
];

const COL={down:"#00782F",ins:"#BEBEBE",up:"#E41A1C"};
const FONT="'Liberation Serif','Times New Roman',serif";
// The whole 4180x4373 design is fitted to whatever window the page gets.
const svg=d3.select("#c").attr("width",window.innerWidth).attr("height",window.innerHeight)
  .attr("viewBox","0 0 4180 4373").attr("preserveAspectRatio","none");
svg.append("rect").attr("width",4180).attr("height",4373).attr("fill","#fff");

panels.forEach(p=>{
  const [x0,x1,y0,y1]=p.box;
  const x=d3.scaleLinear().domain(p.xd).range([x0,x1]);
  const y=d3.scaleLinear().domain(p.yd).range([y1,y0]);
  const rs=d3.scaleRadial().domain([p.vipTicks[0],p.vipTicks[p.vipTicks.length-1]]).range(p.r);
  const g=svg.append("g");
  g.append("rect").attr("x",x0).attr("y",y0).attr("width",x1-x0).attr("height",y1-y0).attr("fill","#fff");
  g.selectAll(null).data(p.yMinor).join("line").attr("x1",x0).attr("x2",x1).attr("y1",d=>y(d)).attr("y2",d=>y(d)).attr("stroke","#F2F2F2").attr("stroke-width",2.2);
  g.selectAll(null).data(p.yTicks).join("line").attr("x1",x0).attr("x2",x1).attr("y1",d=>y(d)).attr("y2",d=>y(d)).attr("stroke","#EBEBEB").attr("stroke-width",3.5);
  g.selectAll(null).data(p.xTicks).join("line").attr("y1",y0).attr("y2",y1).attr("x1",d=>x(d)).attr("x2",d=>x(d)).attr("stroke","#EBEBEB").attr("stroke-width",3.5);
  const cid="clip"+p.id;
  svg.append("clipPath").attr("id",cid).append("rect").attr("x",x0).attr("y",y0).attr("width",x1-x0).attr("height",y1-y0);
  const pts=g.append("g").attr("clip-path",`url(#${cid})`);
  [["ins",p.ins,p.vip[1]],["down",p.down,p.vip[0]],["up",p.up,p.vip[2]]].forEach(([k,arr,v])=>{
    pts.selectAll(null).data(arr).join("circle").attr("cx",d=>x(d[0])).attr("cy",d=>y(d[1]))
      .attr("r",rs(v)).attr("fill",COL[k]).attr("fill-opacity",k==="ins"?0.85:0.9);
  });
  const dash="17,10";
  [-1,1].forEach(v=>pts.append("line").attr("x1",x(v)).attr("x2",x(v)).attr("y1",y0).attr("y2",y1).attr("stroke","#000").attr("stroke-width",4).attr("stroke-dasharray",dash));
  pts.append("line").attr("x1",x0).attr("x2",x1).attr("y1",y(1.301)).attr("y2",y(1.301)).attr("stroke","#000").attr("stroke-width",4).attr("stroke-dasharray",dash);
  g.append("rect").attr("x",x0).attr("y",y0).attr("width",x1-x0).attr("height",y1-y0).attr("fill","none").attr("stroke","#333").attr("stroke-width",4);
  const ax=g.append("g").attr("transform",`translate(0,${y1})`).call(d3.axisBottom(x).tickValues(p.xTicks).tickSize(9).tickPadding(7).tickFormat((d,i)=>p.xLabels[i]));
  const ay=g.append("g").attr("transform",`translate(${x0},0)`).call(d3.axisLeft(y).tickValues(p.yTicks).tickSize(9).tickPadding(7).tickFormat(d3.format("d")));
  [ax,ay].forEach(a=>{a.select(".domain").remove();a.selectAll(".tick line").attr("stroke","#333").attr("stroke-width",3.5);
    a.selectAll("text").attr("font-family",FONT).attr("font-weight","bold").attr("font-size",42).attr("fill","#4D4D4D");});
  const xt=g.append("text").attr("x",p.xt[0]).attr("y",p.xt[1]).attr("text-anchor","middle").attr("font-family",FONT).attr("font-weight","bold").attr("font-size",46).attr("fill","#000");
  if(p.xsub){xt.append("tspan").text("Log");xt.append("tspan").attr("font-size",32).attr("dy",10).text("2");xt.append("tspan").attr("dy",-10).text("FC");}
  else xt.text("Log2FC");
  const yt=g.append("text").attr("transform",`translate(${p.yt[0]},${p.yt[1]}) rotate(-90)`).attr("dy","0.35em").attr("text-anchor","middle").attr("font-family",FONT).attr("font-weight","bold").attr("font-size",44).attr("fill","#000");
  if(p.ysub){yt.append("tspan").text("\u2212 Log");yt.append("tspan").attr("font-size",31).attr("dy",9).text("10");yt.append("tspan").attr("dy",-9).text("P-value");}
  else yt.text("\u2212 Log10P-value");
  svg.append("text").attr("x",p.letter[0]).attr("y",p.letter[1]).attr("font-family",FONT).attr("font-weight","bold").attr("font-size",98).attr("fill","#1a1510").text(p.id);
  const s=p.st, sb=s.b;
  svg.append("rect").attr("x",sb[0]).attr("y",sb[1]).attr("width",sb[2]-sb[0]).attr("height",sb[3]-sb[1]).attr("fill","#fff").attr("stroke","#111").attr("stroke-width",3.5);
  const tf=sel=>sel.attr("font-family",FONT).attr("font-weight","bold").attr("font-size",42).attr("fill","#000");
  tf(svg.append("text").attr("x",s.tx).attr("y",s.ty).text("Statistics"));
  const cnt=statCounts[p.id];
  const entries=[["Down",cnt[0],COL.down],["Insignificant",cnt[1],COL.ins],["Up",cnt[2],COL.up]];
  entries.forEach((e,i)=>{
    svg.append("circle").attr("cx",s.dx).attr("cy",s.ey[i]-13).attr("r",5.5).attr("fill",e[2]);
    tf(svg.append("text").attr("x",s.ex).attr("y",s.ey[i]).text(`${e[0]}: ${e[1]}`));
  });
  const v=p.vb, vb=v.b;
  svg.append("rect").attr("x",vb[0]).attr("y",vb[1]).attr("width",vb[2]-vb[0]).attr("height",vb[3]-vb[1]).attr("fill","#fff").attr("stroke","#111").attr("stroke-width",3.5);
  tf(svg.append("text").attr("x",v.tx).attr("y",v.ty).text("VIP"));
  p.vipTicks.forEach((t,i)=>{
    svg.append("circle").attr("cx",v.dx).attr("cy",v.ey[i]-14).attr("r",rs(t)).attr("fill","#1e1e1e");
    tf(svg.append("text").attr("x",v.lx).attr("y",v.ey[i]).text(p.vipLabels[i]));
  });
});
</script>
</body></html>
